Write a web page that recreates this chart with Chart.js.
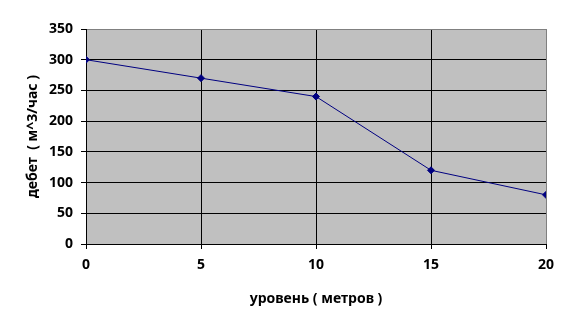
<!DOCTYPE html>
<html lang="ru">
<head>
    <meta charset="UTF-8">
    <title>дебет / уровень</title>
    <script src="https://cdn.jsdelivr.net/npm/chart.js"></script>
    <style>
        body, html {
            margin: 0;
            padding: 0;
            background: #fff;
        }
        #wrap {
            width: 572px;
            height: 331px;
        }
    </style>
</head>
<body>
    <div id="wrap"><canvas id="chart"></canvas></div>

    <script>
        // data
        const levels = [0, 5, 10, 15, 20];
        const debit = [300, 270, 240, 120, 80];
        const xTitle = 'уровень ( метров )';
        const yTitle = 'дебет  ( м^3/час )';

        const font = { family: 'Noto Sans', size: 14, weight: 'bold', lineHeight: 1.2 };

        // gray plot background
        const plotBg = {
            id: 'plotBg',
            beforeDraw(chart) {
                const { ctx, chartArea: a } = chart;
                ctx.save();
                ctx.fillStyle = '#c0c0c0';
                ctx.fillRect(a.left, a.top, a.right - a.left, a.bottom - a.top);
                ctx.restore();
            }
        };

        new Chart(document.getElementById('chart'), {
            type: 'line',
            data: {
                datasets: [{
                    data: levels.map((x, i) => ({ x: x, y: debit[i] })),
                    borderColor: '#000080',
                    backgroundColor: '#000080',
                    borderWidth: 1,
                    pointStyle: 'rectRot',
                    pointRadius: 3.5,
                    pointBorderWidth: 1,
                    tension: 0,
                    fill: false
                }]
            },
            options: {
                responsive: true,
                maintainAspectRatio: false,
                animation: false,
                layout: { padding: { top: 29, right: 26, left: 0, bottom: 0 } },
                plugins: {
                    legend: { display: false },
                    tooltip: { enabled: false }
                },
                scales: {
                    x: {
                        type: 'linear',
                        min: 0,
                        max: 20,
                        afterFit(scale) { scale.height = 87; },
                        ticks: { stepSize: 5, color: '#000', font: font, padding: 8, maxRotation: 0 },
                        grid: {
                            color: ctx => ctx.tick && ctx.tick.value === 20 ? '#808080' : '#000',
                            tickColor: '#000',
                            tickLength: 5,
                            lineWidth: 1
                        },
                        border: { color: '#000', width: 1 },
                        title: { display: true, text: xTitle, color: '#000', font: font, padding: { top: 0, bottom: 24 } }
                    },
                    y: {
                        min: 0,
                        max: 350,
                        afterFit(scale) { scale.width = 86; },
                        ticks: { stepSize: 50, color: '#000', font: font, padding: 8 },
                        grid: {
                            color: ctx => ctx.tick && ctx.tick.value === 350 ? '#808080' : '#000',
                            tickColor: '#000',
                            tickLength: 5,
                            lineWidth: 1
                        },
                        border: { color: '#000', width: 1 },
                        title: { display: true, text: yTitle, color: '#000', font: font, padding: { top: 25, bottom: 0 } }
                    }
                }
            },
            plugins: [plotBg]
        });
    </script>
</body>
</html>
